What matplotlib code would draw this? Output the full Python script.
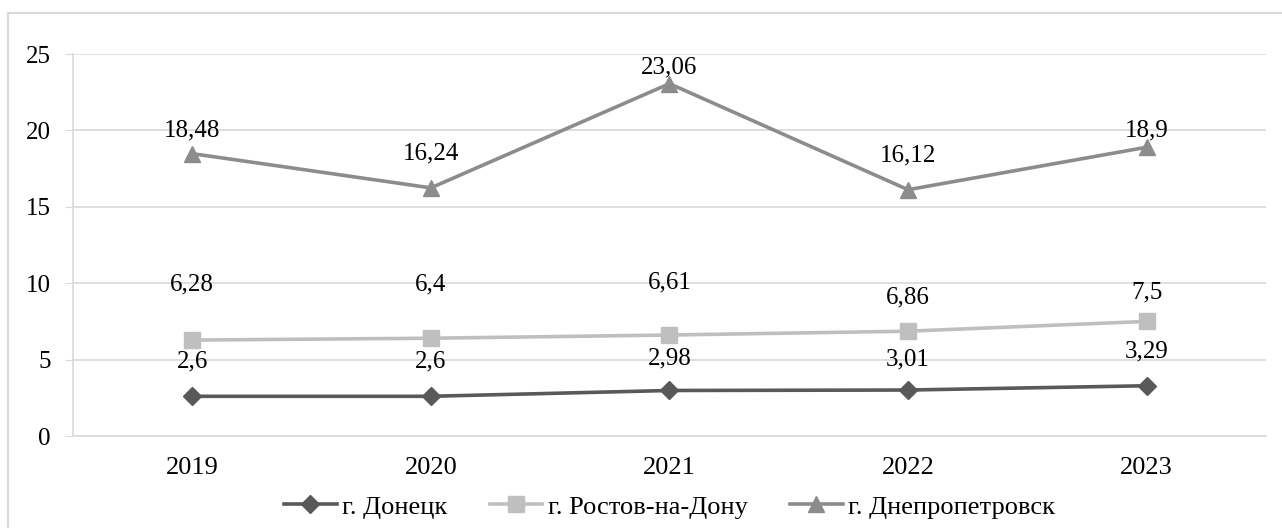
import matplotlib.pyplot as plt
from matplotlib.patches import Rectangle

plt.rcParams['font.family'] = ['Liberation Serif', 'DejaVu Serif']

years = ['2019', '2020', '2021', '2022', '2023']
donetsk = [2.6, 2.6, 2.98, 3.01, 3.29]
rostov = [6.28, 6.4, 6.61, 6.86, 7.5]
dnepr = [18.48, 16.24, 23.06, 16.12, 18.9]

names = ['г. Донецк', 'г. Ростов-на-Дону', 'г. Днепропетровск']
colors = ['#595959', '#bfbfbf', '#8c8c8c']
markers = ['D', 's', '^']
msizes = [9, 11, 12]
# label offsets above each point (points), as placed in the original
offsets = [[25, 25, 23, 22, 25],
           [40, 39, 38, 24, 21],
           [17, 25, 12, 25, 12]]

fig = plt.figure(figsize=(12.82, 5.28), dpi=100)
ax = fig.add_axes([0.0569, 0.1742, 0.9306, 0.7235])

x = list(range(len(years)))
for vals, name, c, m, ms, offs in zip([donetsk, rostov, dnepr], names, colors,
                                      markers, msizes, offsets):
    ax.plot(x, vals, color=c, lw=2.6, marker=m, ms=ms, markeredgecolor=c, label=name)
    for xi, v, o in zip(x, vals, offs):
        lbl = ('%g' % v).replace('.', ',')
        ax.annotate(lbl, (xi, v), xytext=(0, o), textcoords='offset points',
                    ha='center', va='center', fontsize=18, color='black')

ax.set_xlim(-0.5, 4.5)
ax.set_ylim(0, 25)
ax.set_yticks([0, 5, 10, 15, 20, 25])
ax.set_xticks(x)
ax.set_xticklabels(years)
ax.tick_params(axis='y', labelsize=18, length=6, color='#d9d9d9', pad=10)
ax.tick_params(axis='x', labelsize=19, length=0, pad=15)
ax.grid(axis='y', color='#d9d9d9', lw=1.2)
ax.set_axisbelow(True)
for s in ['top', 'right']:
    ax.spines[s].set_visible(False)
ax.spines['left'].set_color('#d9d9d9')
ax.spines['bottom'].set_color('#d9d9d9')
ax.spines['left'].set_linewidth(1.2)
ax.spines['bottom'].set_linewidth(1.2)

ax.legend(loc='center', bbox_to_anchor=(0.5, -0.1855), ncol=3, frameon=False,
          fontsize=19, handlelength=2.0, columnspacing=1.6, handletextpad=0.2,
          borderaxespad=0, borderpad=0)

fig.patches.append(Rectangle((8 / 1282, -0.05), 1.1, 1 - 13 / 528 + 0.05,
                             transform=fig.transFigure, fill=False,
                             edgecolor='#d9d9d9', lw=1.5))

fig.savefig('out.png', dpi=100)
